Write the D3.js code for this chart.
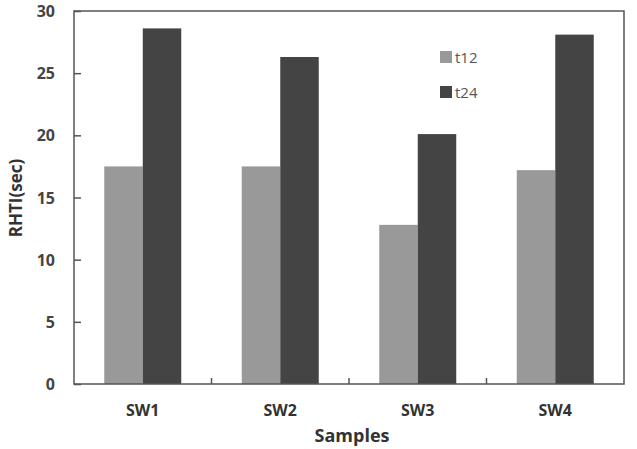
<!DOCTYPE html>
<meta charset="utf-8">
<style>
body { margin: 0; background: #fff; }
text { font-family: "Open Sans", "Liberation Sans", sans-serif; }
.tick text { font-weight: bold; font-size: 16px; fill: #444; }
</style>
<body>
<script src="https://cdn.jsdelivr.net/npm/d3@7"></script>
<script>

var samples = ["SW1", "SW2", "SW3", "SW4"];
var seriesNames = ["t12", "t24"];
var t12 = [17.5, 17.5, 12.8, 17.2];
var t24 = [28.6, 26.3, 20.1, 28.1];
var yTicks = [0, 5, 10, 15, 20, 25, 30];

var width = 637,
    height = 449;

var margin = {top: 11, right: 13, bottom: 65, left: 74};

var svg = d3.select("body").append("svg")
    .attr("width", width)
    .attr("height", height);

var x0 = d3.scaleBand()
    .domain(samples)
    .range([margin.left, width - margin.right])
    .paddingInner(0.44)
    .paddingOuter(0.22);

var x1 = d3.scaleBand()
    .domain(seriesNames)
    .range([0, x0.bandwidth()]);

var y = d3.scaleLinear()
    .domain([0, 30])
    .range([height - margin.bottom, margin.top]);

var color = d3.scaleOrdinal()
    .domain(seriesNames)
    .range(["#999999", "#444444"]);

var rows = samples.map(function(s, i) {
  return {sample: s, values: [{key: "t12", v: t12[i]}, {key: "t24", v: t24[i]}]};
});

// bars
var groups = svg.selectAll("g.group")
    .data(rows)
  .enter().append("g")
    .attr("class", "group")
    .attr("transform", function(d) { return "translate(" + x0(d.sample) + ",0)"; });

groups.selectAll("rect")
    .data(function(d) { return d.values; })
  .enter().append("rect")
    .attr("x", function(d) { return x1(d.key); })
    .attr("y", function(d) { return y(d.v); })
    .attr("width", x1.bandwidth())
    .attr("height", function(d) { return y(0) - y(d.v); })
    .attr("fill", function(d) { return color(d.key); });

// frame
svg.append("rect")
    .attr("x", margin.left)
    .attr("y", margin.top)
    .attr("width", width - margin.left - margin.right)
    .attr("height", height - margin.top - margin.bottom)
    .attr("fill", "none")
    .attr("stroke", "#555")
    .attr("stroke-width", 1.5);

// y axis, ticks pointing inward
var yAxis = svg.append("g")
    .attr("transform", "translate(" + margin.left + ",0)")
    .call(d3.axisLeft(y).tickValues(yTicks).tickSize(-7).tickPadding(19));
yAxis.select(".domain").remove();
yAxis.selectAll(".tick line").attr("stroke", "#555").attr("stroke-width", 1.5);
yAxis.selectAll(".tick text").attr("dy", "0.35em");

// x axis: ticks at category boundaries
var step = x0.step();
var bounds = samples.slice(1).map(function(s) { return x0(s) - x0.paddingInner() * step / 2; });
svg.selectAll("line.xtick")
    .data(bounds)
  .enter().append("line")
    .attr("class", "xtick")
    .attr("x1", function(d) { return d; })
    .attr("x2", function(d) { return d; })
    .attr("y1", y(0))
    .attr("y2", y(0) - 6)
    .attr("stroke", "#555")
    .attr("stroke-width", 1.5);

svg.selectAll("text.xlab")
    .data(samples)
  .enter().append("text")
    .attr("class", "xlab")
    .attr("x", function(d) { return x0(d) + x0.bandwidth() / 2; })
    .attr("y", 416)
    .attr("text-anchor", "middle")
    .style("font-weight", "bold")
    .style("font-size", "16px")
    .style("fill", "#333")
    .text(function(d) { return d; });

// axis titles
svg.append("text")
    .attr("x", (margin.left + width - margin.right) / 2 + 3)
    .attr("y", 442)
    .attr("text-anchor", "middle")
    .style("font-weight", "bold")
    .style("font-size", "18px")
    .style("fill", "#333")
    .text("Samples");

svg.append("text")
    .attr("transform", "translate(22,198) rotate(-90)")
    .attr("text-anchor", "middle")
    .style("font-weight", "bold")
    .style("font-size", "17px")
    .style("fill", "#333")
    .text("RHTI(sec)");

// legend
var legend = svg.selectAll("g.legend")
    .data(seriesNames)
  .enter().append("g")
    .attr("class", "legend")
    .attr("transform", function(d, i) { return "translate(440," + (51 + i * 35) + ")"; });

legend.append("rect")
    .attr("width", 12)
    .attr("height", 12)
    .attr("fill", function(d) { return color(d); });

legend.append("text")
    .attr("x", 15)
    .attr("y", 12)
    .style("font-size", "15px")
    .style("fill", "#555")
    .text(function(d) { return d; });

</script>
</body>
